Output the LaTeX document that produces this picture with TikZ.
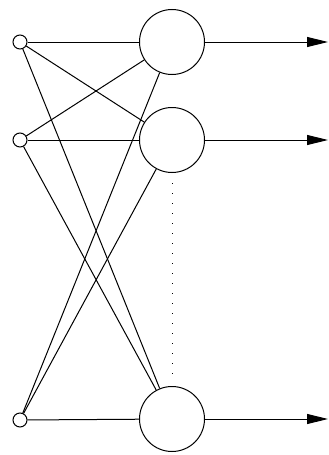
\documentclass[tikz,border=0pt]{standalone}
\usepackage{tikz}
\usetikzlibrary{arrows.meta}
\tikzset{
  inpt/.style={circle,draw,line width=1pt,inner sep=0pt,minimum size=14pt},
  neuron/.style={circle,draw,line width=1pt,inner sep=0pt,minimum size=65pt},
  wire/.style={line width=1pt},
  outarrow/.style={-{Triangle[length=21pt,width=10pt]},line width=1pt},
  dotline/.style={line width=1pt,dash pattern=on 1pt off 9pt}
}
\begin{document}
\begin{tikzpicture}[x=1pt,y=-1pt]
    \useasboundingbox (0,0) rectangle (329,455);
    % inputs
    \node[inpt] (in1) at (20,42) {};
    \node[inpt] (in2) at (20,140) {};
    \node[inpt] (in3) at (20,420) {};
    % neurons
    \node[neuron] (neu1) at (172,42) {};
    \node[neuron] (neu2) at (172,140) {};
    \node[neuron] (neu3) at (172,419) {};
    \coordinate (out1) at (328,42);
    \coordinate (out2) at (328,140);
    \coordinate (out3) at (328,419);
    \foreach \i in {1,2,3}
      \foreach \j in {1,2,3}
        \draw[wire] (in\i) -- (neu\j);
    \foreach \j in {1,2,3}
      \draw[outarrow] (neu\j) -- (out\j);
    \draw[dotline] ([yshift=-10pt]neu2.south) -- ([yshift=10pt]neu3.north);
  \end{tikzpicture}
\end{document}
